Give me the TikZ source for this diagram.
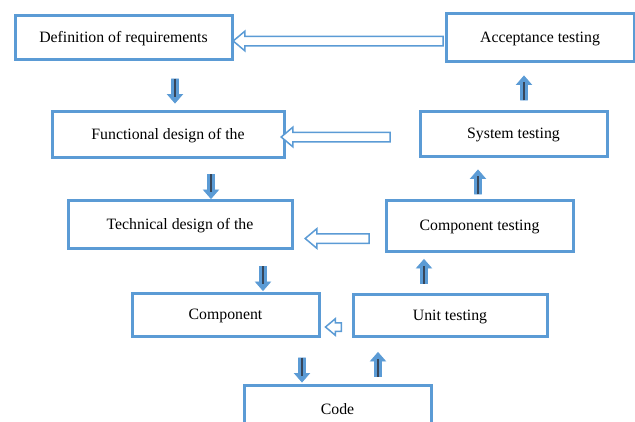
\documentclass[tikz,border=0pt]{standalone}
\usepackage{fontspec}
\setmainfont{Liberation Serif}
\usetikzlibrary{shapes.arrows}
\definecolor{boxblue}{RGB}{91,155,213}
\definecolor{darkline}{RGB}{55,70,90}

\begin{document}
\begin{tikzpicture}[x=1pt,y=-1pt,
    stage/.style={draw=boxblue,line width=3pt,fill=white,inner sep=0pt,
      text height=11pt,text depth=1pt,font=\fontsize{15.8}{18}\selectfont},
    back/.style={single arrow,draw=boxblue,fill=white,line width=1.5pt,
      inner sep=0pt,inner ysep=4pt,single arrow head extend=5pt,
      single arrow tip angle=80,rotate=180},
    flow/.style={single arrow,draw=boxblue,fill=boxblue,line width=0.8pt,
      inner sep=0pt,inner ysep=3pt,single arrow head extend=4pt,
      single arrow tip angle=82,minimum height=24pt},
    midline/.style={draw=darkline,line width=1.2pt,shorten >=7pt}]
      \useasboundingbox (0,0) rectangle (635,421);
      \clip (0,0) rectangle (635,421);
      % design side
      \node[stage,minimum width=217pt,minimum height=44pt] (def) at (123.5,37) {Definition of requirements};
      \node[stage,minimum width=232pt,minimum height=46pt] (func) at (168,134) {Functional design of the};
      \node[stage,minimum width=224pt,minimum height=48pt] (tech) at (180,224) {Technical design of the};
      \node[stage,minimum width=187pt,minimum height=43pt] (comp) at (225.5,314.5) {Component};
      \node[stage,minimum width=187pt,minimum height=48pt] (code) at (337.5,409) {Code};
      % testing side
      \node[stage,minimum width=188pt,minimum height=48pt] (acc) at (540,37) {Acceptance testing};
      \node[stage,minimum width=187pt,minimum height=45pt] (sys) at (513.5,133.5) {System testing};
      \node[stage,minimum width=187pt,minimum height=51pt] (ctest) at (479.5,225.5) {Component testing};
      \node[stage,minimum width=194pt,minimum height=42pt] (unit) at (450,315) {Unit testing};
      % feedback arrows
      \node[back,minimum height=210pt] (b1) at (341,41) {};
      \node[back,minimum height=109pt] (b2) at (338.5,137) {};
      \node[back,minimum height=64pt] (b3) at (340,238.5) {};
      \node[back,minimum height=16pt,inner ysep=3.5pt,single arrow head extend=4pt] (b4) at (336,327) {};
      % down arrows
      \node[flow,rotate=-90] (d1) at (175,89) {};
      \node[flow,rotate=-90] (d2) at (211,184.5) {};
      \node[flow,rotate=-90] (d3) at (263,276.5) {};
      \node[flow,rotate=-90] (d4) at (302,368) {};
      % up arrows
      \node[flow,rotate=90] (u1) at (524,90) {};
      \node[flow,rotate=90] (u2) at (478,184) {};
      \node[flow,rotate=90] (u3) at (424,273.5) {};
      \node[flow,rotate=90] (u4) at (378,366.5) {};
      \foreach \a in {d1,d2,d3,d4,u1,u2,u3,u4}
        \draw[midline] (\a.tail) -- (\a.tip);
\end{tikzpicture}
\end{document}
